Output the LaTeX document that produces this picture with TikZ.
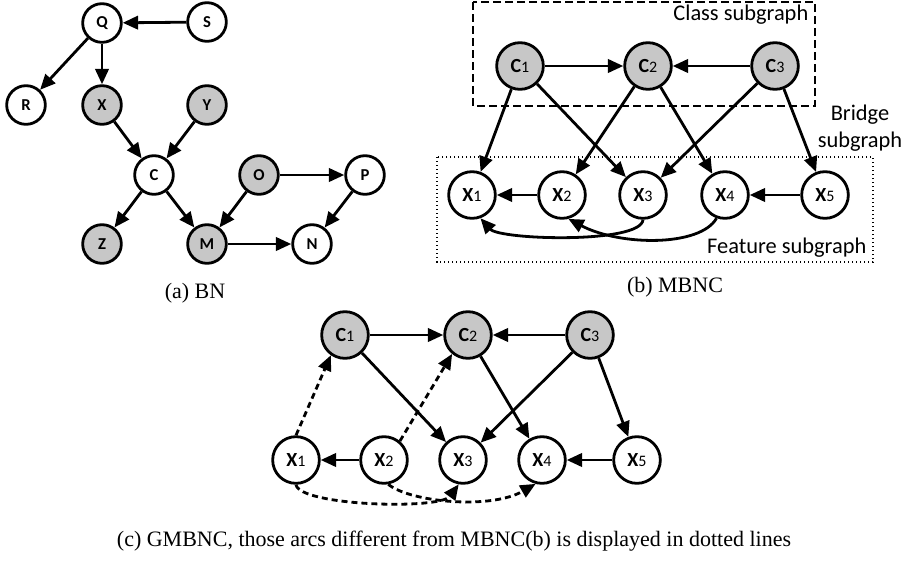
\documentclass[tikz,border=0pt]{standalone}
\usepackage{fontspec}
\setmainfont{Liberation Serif}
\newfontfamily\labelfont{Carlito}
\usetikzlibrary{arrows.meta}
\tikzset{
  bnnode/.style={circle, draw, line width=2.1pt, fill=white, minimum size=29pt, inner sep=0pt,
    font=\labelfont\bfseries\fontsize{12.5}{14}\selectfont},
  obsnode/.style={fill=black!22},
  mbnode/.style={bnnode, minimum size=35pt, font=\labelfont\bfseries\fontsize{15}{17}\selectfont},
  arc/.style={-{Triangle[length=11.5pt,width=10pt]}, line width=2.1pt},
  newarc/.style={arc, dash pattern=on 4.5pt off 3pt},
  boxlabel/.style={font=\labelfont\fontsize{16.8}{20}\selectfont, align=center},
  subcap/.style={font=\fontsize{16.5}{18}\selectfont},
}
\newcommand{\vn}[2]{#1{\mdseries\fontsize{12}{14}\selectfont#2}}

\begin{document}
\begin{tikzpicture}[x=0.75pt, y=-0.75pt]
  \useasboundingbox (0,0) rectangle (909,564);
  % (a) BN
  \node[bnnode] (Q) at (102,23) {Q};
  \node[bnnode] (S) at (207,22) {S};
  \node[bnnode] (R) at (26,105) {R};
  \node[bnnode, obsnode] (X) at (102,105) {X};
  \node[bnnode, obsnode] (Y) at (207,105) {Y};
  \node[bnnode] (C) at (154,175) {C};
  \node[bnnode, obsnode] (O) at (259,175) {O};
  \node[bnnode] (P) at (365,175) {P};
  \node[bnnode, obsnode] (Z) at (102,244) {Z};
  \node[bnnode, obsnode] (M) at (207,244) {M};
  \node[bnnode] (N) at (312,244) {N};
  \foreach \a/\b in {S/Q, Q/R, Q/X, X/C, Y/C, C/Z, C/M, O/M, O/P, P/N, M/N}
    \draw[arc] (\a) -- (\b);
  \node[subcap] (capa) at (195,293) {(a) BN};

  % (b) MBNC
  \draw[line width=0.8pt, dash pattern=on 6pt off 3pt] (473,2) rectangle (815,106);
  \draw[line width=1pt, dotted] (437,157) rectangle (873,262);
  \node[boxlabel, anchor=east] (classlbl) at (813,15) {Class subgraph};
  \node[boxlabel] (bridgelbl) at (860,128) {Bridge\\subgraph};
  \node[boxlabel, anchor=east] (featlbl) at (871,248) {Feature subgraph};
  \foreach \i/\x in {1/520, 2/648, 3/775}
    \node[mbnode, obsnode] (bC\i) at (\x,66) {\vn{C}{\i}};
  \foreach \i/\x in {1/472, 2/562, 3/643, 4/725, 5/825}
    \node[mbnode] (bX\i) at (\x,195) {\vn{X}{\i}};
  \foreach \a/\b in {bC1/bC2, bC3/bC2, bC1/bX1, bC1/bX3, bC2/bX2, bC2/bX4, bC3/bX3, bC3/bX5, bX2/bX1, bX5/bX4}
    \draw[arc] (\a) -- (\b);
  \draw[arc] (bX3.south) .. controls (641,244) and (500,240) .. (bX1.-70);
  \draw[arc] (bX4.-110) .. controls (700,247) and (620,246) .. (bX2.-75);
  \node[subcap] (capb) at (675,287) {(b) MBNC};

  % (c) GMBNC
  \foreach \i/\x in {1/345, 2/468, 3/590}
    \node[mbnode, obsnode] (cC\i) at (\x,335) {\vn{C}{\i}};
  \foreach \i/\x in {1/296, 2/384, 3/463, 4/542, 5/637}
    \node[mbnode] (cX\i) at (\x,460) {\vn{X}{\i}};
  \foreach \a/\b in {cC1/cC2, cC3/cC2, cC1/cX3, cC2/cX4, cC3/cX3, cC3/cX5, cX2/cX1, cX5/cX4}
    \draw[arc] (\a) -- (\b);
  \draw[newarc] (cX1.north) -- (cC1.235);
  \draw[newarc] (cX2.50) -- (cC2.230);
  \draw[newarc] (cX1.south) .. controls (300,506) and (440,510) .. (cX3.-100);
  \draw[newarc] (cX2.-80) .. controls (410,502) and (490,510) .. (cX4.-105);
  \node[subcap] (capc) at (454,541) {(c) GMBNC, those arcs different from MBNC(b) is displayed in dotted lines};
\end{tikzpicture}
\end{document}
